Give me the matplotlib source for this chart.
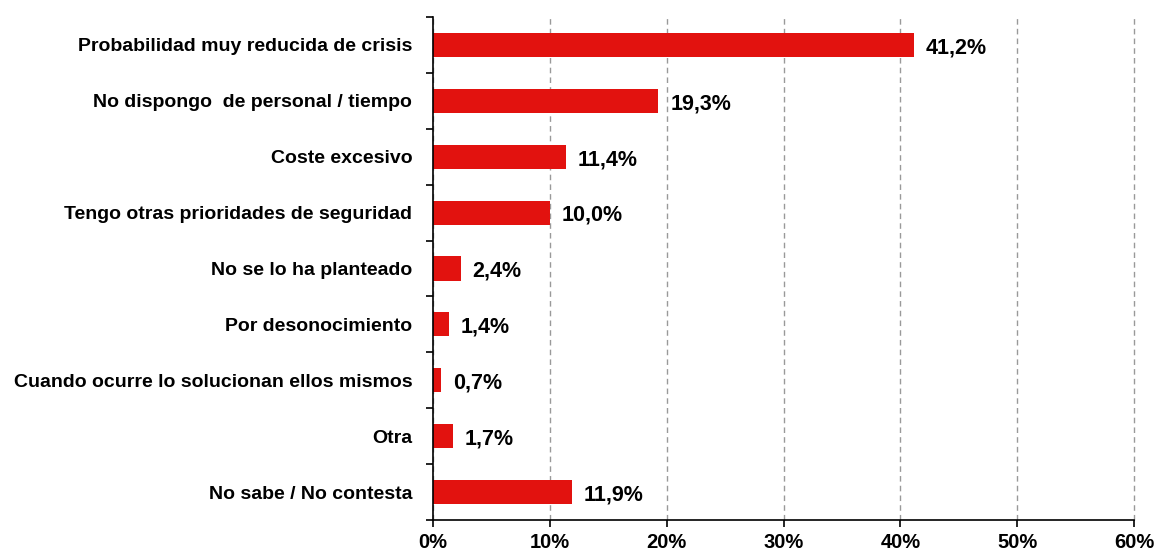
import numpy as np
import matplotlib.pyplot as plt
from matplotlib.ticker import FuncFormatter

plt.rcParams['font.family'] = ['Liberation Sans', 'DejaVu Sans']
plt.rcParams['font.weight'] = 'bold'

categories = [
    "Probabilidad muy reducida de crisis",
    "No dispongo  de personal / tiempo",
    "Coste excesivo",
    "Tengo otras prioridades de seguridad",
    "No se lo ha planteado",
    "Por desonocimiento",
    "Cuando ocurre lo solucionan ellos mismos",
    "Otra",
    "No sabe / No contesta",
]
values = [41.2, 19.3, 11.4, 10.0, 2.4, 1.4, 0.7, 1.7, 11.9]
xticks = [0, 10, 20, 30, 40, 50, 60]

fig = plt.figure(figsize=(11.56, 5.56), dpi=100)
ax = fig.add_axes([433/1156, 1 - 520/556, (1134 - 433)/1156, (520 - 17)/556])

y = np.arange(len(categories))
ax.barh(y, values, height=0.43, color='#E2120F', zorder=3)

# value labels to the right of each bar
for yi, v in zip(y, values):
    ax.text(v + 1.0, yi + 0.05, f"{v:.1f}%".replace('.', ','), va='center', ha='left',
            fontsize=15.5, fontweight='bold')

ax.set_xlim(0, 60)
ax.set_ylim(len(categories) - 0.5, -0.5)
ax.set_xticks(xticks)
ax.xaxis.set_major_formatter(FuncFormatter(lambda v, p: f"{v:.0f}%"))
ax.tick_params(axis='x', labelsize=14.5, length=5, width=1.2, pad=4, direction='out')

ax.set_yticks(y)
ax.set_yticklabels(categories, fontsize=14, fontweight='bold')
ax.tick_params(axis='y', which='major', length=0, pad=15)
ax.set_yticks(np.arange(-0.5, len(categories), 1), minor=True)
ax.tick_params(axis='y', which='minor', length=5, width=1.2, direction='out')

for label in ax.get_xticklabels():
    label.set_fontweight('bold')

ax.grid(axis='x', linestyle=(0, (4, 3)), color='#999999', linewidth=1, zorder=0)
for gl in ax.get_xgridlines():
    gl.set_clip_on(False)
for s in ['top', 'right']:
    ax.spines[s].set_visible(False)
ax.spines['left'].set_linewidth(1.2)
ax.spines['bottom'].set_linewidth(1.2)
ax.spines['left'].set_zorder(4)

fig.savefig('out.png', dpi=100)
